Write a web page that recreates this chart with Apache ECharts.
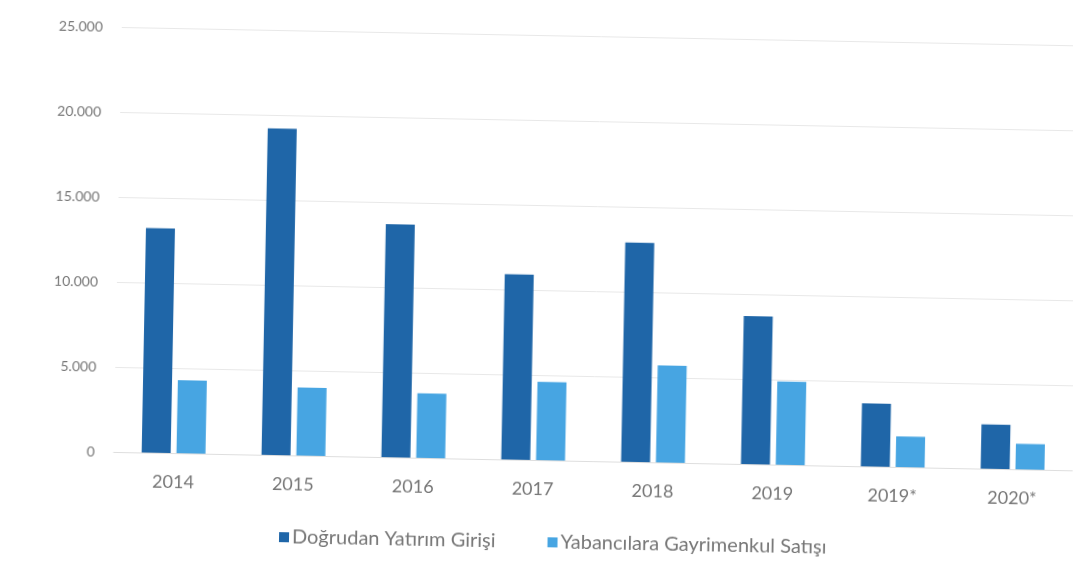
<!DOCTYPE html>
<html>
<head>
<meta charset="utf-8">
<script src="https://cdn.jsdelivr.net/npm/echarts@6/dist/echarts.min.js"></script>
<style>
  html, body { margin: 0; padding: 0; background: #ffffff; overflow: hidden; }
  #chart {
    position: absolute; left: 0; top: 0;
    width: 1090px; height: 563px;
    transform: rotate(1.1deg);
    transform-origin: 536px 281px;
  }
</style>
</head>
<body>
<div id="chart"></div>
<script>
// Years on the category axis
const years = ['2014', '2015', '2016', '2017', '2018', '2019', '2019*', '2020*'];

// Doğrudan yatırım girişi (milyon $)
const directInvestment = [13200, 19200, 13700, 10900, 12900, 8700, 3700, 2600];

// Yabancılara gayrimenkul satışı (milyon $)
const realEstateSales = [4300, 4000, 3800, 4600, 5700, 4900, 1800, 1500];

const seriesNames = ['Doğrudan Yatırım Girişi', 'Yabancılara Gayrimenkul Satışı'];
const yTicks = [0, 5000, 10000, 15000, 20000, 25000];

const fontFamily = 'Lato, "Open Sans", sans-serif';
const textColor = '#777777';

const chart = echarts.init(document.getElementById('chart'));

chart.setOption({
  backgroundColor: '#ffffff',
  animation: false,
  textStyle: { fontFamily: fontFamily },
  grid: { left: 117, top: 35, width: 959, height: 425, containLabel: false },
  legend: {
    left: 279,
    top: 527,
    itemWidth: 10,
    itemHeight: 10,
    itemGap: 52,
    icon: 'rect',
    textStyle: { color: textColor, fontSize: 20, fontFamily: fontFamily, padding: [0, 0, 0, -2] },
    data: seriesNames
  },
  xAxis: {
    type: 'category',
    data: years,
    axisLine: { show: true, lineStyle: { color: '#dedede', width: 1 } },
    axisTick: { show: false },
    axisLabel: { color: textColor, fontSize: 18, margin: 20, fontFamily: fontFamily }
  },
  yAxis: {
    type: 'value',
    min: yTicks[0],
    max: yTicks[yTicks.length - 1],
    interval: yTicks[1] - yTicks[0],
    axisLine: { show: false },
    axisTick: { show: false },
    splitLine: { lineStyle: { color: '#e8e8e8', width: 1 } },
    axisLabel: {
      color: textColor,
      fontSize: 14,
      margin: 19,
      fontFamily: fontFamily,
      formatter: function (v) {
        return v.toString().replace(/\B(?=(\d{3})+(?!\d))/g, '.');
      }
    }
  },
  series: [
    {
      name: seriesNames[0],
      type: 'bar',
      data: directInvestment,
      barWidth: 29,
      barGap: '20%',
      itemStyle: { color: '#1f66a8' }
    },
    {
      name: seriesNames[1],
      type: 'bar',
      data: realEstateSales,
      barWidth: 29,
      barGap: '20%',
      itemStyle: { color: '#47a5e2' }
    }
  ]
});
</script>
</body>
</html>
